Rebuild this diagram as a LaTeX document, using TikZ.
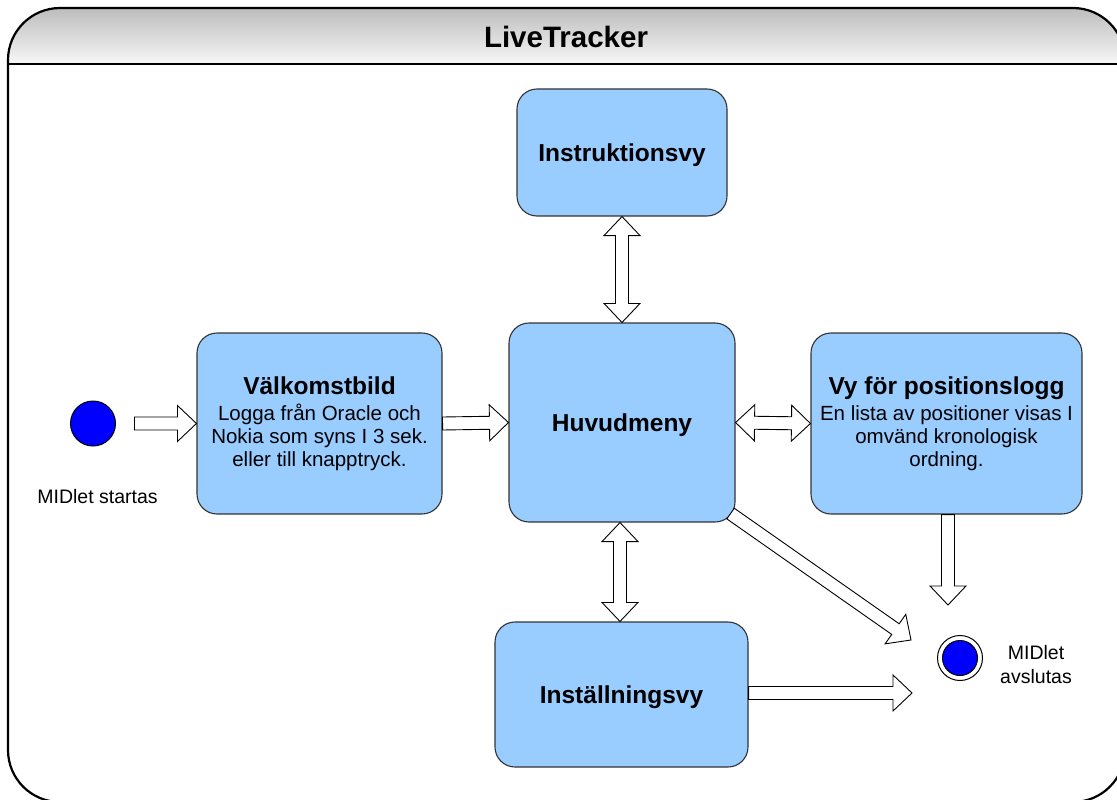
\documentclass[tikz,border=0pt]{standalone}
\usepackage{fontspec}
\setmainfont{Liberation Sans}
\usetikzlibrary{calc}
\definecolor{boxfill}{HTML}{99CCFF}
\definecolor{boxline}{HTML}{333333}
\definecolor{dotblue}{HTML}{0000FF}
\definecolor{bartop}{HTML}{BDBDBD}
\definecolor{barbot}{HTML}{F7F7F7}
\newcommand\titlef{\bfseries\fontsize{29.5}{32}\selectfont}
\newcommand\headf{\bfseries\fontsize{24.5}{28}\selectfont}
\newcommand\bodyf{\fontsize{20.5}{23}\selectfont}
\newcommand\smallf{\fontsize{19.5}{24}\selectfont}
\newcommand\lowered[1]{\raisebox{-3pt}[\height][\depth]{#1}}
% single block arrow from #1 to #2
\newcommand\sblock[2]{%
  \coordinate (ha) at ($(#2)!19pt!(#1)$);
  \draw[blk] ($(#1)!6.5pt!90:(#2)$) -- ($(ha)!6.5pt!-90:(#1)$) -- ($(ha)!18pt!-90:(#1)$) -- (#2)
    -- ($(ha)!18pt!90:(#1)$) -- ($(ha)!6.5pt!90:(#1)$) -- ($(#1)!6.5pt!-90:(#2)$) -- cycle;}
% double block arrow between #1 and #2
\newcommand\dblock[2]{%
  \coordinate (ha) at ($(#2)!19pt!(#1)$);
  \coordinate (hb) at ($(#1)!19pt!(#2)$);
  \draw[blk] (#1) -- ($(hb)!18pt!90:(#2)$) -- ($(hb)!6.5pt!90:(#2)$) -- ($(ha)!6.5pt!-90:(#1)$)
    -- ($(ha)!18pt!-90:(#1)$) -- (#2) -- ($(ha)!18pt!90:(#1)$) -- ($(ha)!6.5pt!90:(#1)$)
    -- ($(hb)!6.5pt!-90:(#2)$) -- ($(hb)!18pt!-90:(#2)$) -- cycle;}
\begin{document}
\begin{tikzpicture}[x=1pt,y=-1pt,
  state/.style={draw=boxline,line width=1.1pt,fill=boxfill,rounded corners=20pt,
    inner sep=0pt,align=center,font=\bodyf},
  blk/.style={draw=black,line width=0.9pt,fill=white,line join=miter},
  lbl/.style={inner sep=0pt,align=center,font=\smallf}]
\useasboundingbox (0,0) rectangle (1117,800);
\clip (0,0) rectangle (1117,800);
% frame
\begin{scope}
  \clip[rounded corners=52pt] (8,8) rectangle (1125,802);
  \shade[top color=bartop,bottom color=barbot] (8,8) rectangle (1125,64);
\end{scope}
\draw[line width=2.2pt,rounded corners=52pt] (8,8) rectangle (1125,802);
\coordinate (barL) at (8,64);
\coordinate (barR) at (1125,64);
\draw[line width=2.2pt] (barL) -- (barR);
\node[inner sep=0pt,font=\titlef] (title) at (566,37) {LiveTracker};
% states
\node[state,minimum width=210pt,minimum height=127pt] (instr) at (622,152.5) {\headf\lowered{Instruktionsvy}};
\node[state,minimum width=226pt,minimum height=199pt] (huv) at (622,422.5) {\headf\lowered{Huvudmeny}};
\node[state,minimum width=245pt,minimum height=181pt] (vk) at (319.5,423.5)
  {{\headf Välkomstbild}\\[3.5pt]Logga från Oracle och\\Nokia som syns I 3 sek.\\eller till knapptryck.};
\node[state,minimum width=271pt,minimum height=181pt] (vy) at (946.5,423.5)
  {{\headf Vy för positionslogg}\\[3.5pt]En lista av positioner visas I\\omvänd kronologisk\\ordning.};
\node[state,minimum width=253pt,minimum height=145pt] (inst) at (621.5,694.5) {\headf\lowered{Inställningsvy}};
% start / end
\node[circle,draw=black,line width=1pt,fill=dotblue,minimum size=45pt,inner sep=0pt] (start) at (93,423.5) {};
\node[lbl] (startlbl) at (97.5,497) {MIDlet startas};
\node[circle,draw=black,line width=1pt,fill=white,minimum size=45pt,inner sep=0pt] (endo) at (960,658) {};
\node[circle,draw=black,line width=1pt,fill=dotblue,minimum size=35pt,inner sep=0pt] (endi) at (endo) {};
\node[lbl] (endlbl) at (1036,665) {MIDlet\\avslutas};
% connectors
\coordinate (s1) at ($(start.east)+(18.5,0)$);
\sblock{s1}{vk.west}
\sblock{vk.east}{huv.west}
\dblock{huv.east}{vy.west}
\dblock{instr.south}{huv.north}
\coordinate (hs) at ($(huv.south)+(-2,0)$);
\coordinate (in) at ($(inst.north)+(-1.5,0)$);
\dblock{hs}{in}
\coordinate (d1) at ($(huv.south east)+(-5,-9)$);
\coordinate (d2) at ($(endo)+(-49,-18)$);
\sblock{d1}{d2}
\coordinate (v1) at ($(vy.south)+(1.5,0)$);
\coordinate (v2) at ($(endo)+(-12,-53)$);
\sblock{v1}{v2}
\coordinate (i1) at ($(inst.east)+(0,-1.5)$);
\coordinate (i2) at ($(endo)+(-48,35)$);
\sblock{i1}{i2}
\end{tikzpicture}
\end{document}
